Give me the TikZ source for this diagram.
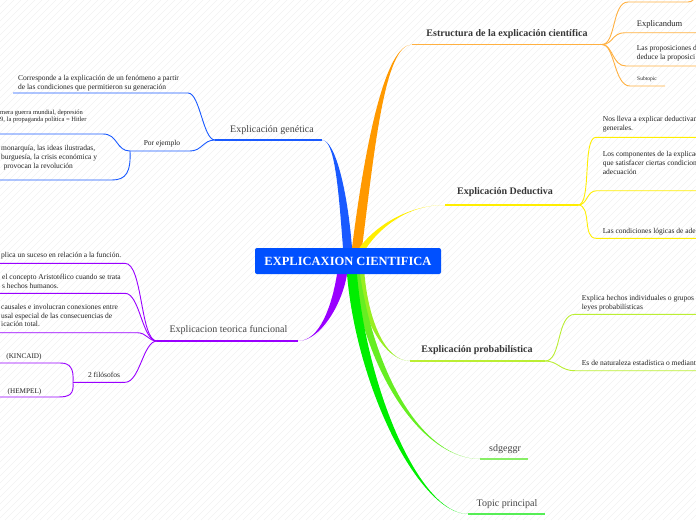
\documentclass[tikz,border=0pt]{standalone}
\usepackage{fontspec}
\setmainfont{Liberation Serif}
\usetikzlibrary{calc,positioning,backgrounds}

\definecolor{rootblue}{HTML}{0050FF}
\definecolor{genblue}{HTML}{1A5AFF}
\definecolor{estorange}{HTML}{FF9900}
\definecolor{estline}{HTML}{FFB040}
\definecolor{dedyellow}{HTML}{FFEE00}
\definecolor{probgreen}{HTML}{99EE22}
\definecolor{probline}{HTML}{BBEE33}
\definecolor{sdggreen}{HTML}{66EE22}
\definecolor{sdgline}{HTML}{88EE66}
\definecolor{topgreen}{HTML}{00EE00}
\definecolor{topline}{HTML}{55EE55}
\definecolor{funcpurple}{HTML}{9900FF}
\definecolor{labelgray}{HTML}{444444}
\definecolor{leafgray}{HTML}{222222}
\definecolor{stripegray}{HTML}{F2F2F2}

% tapered main branch: colour, start, control 1, control 2, end, half width
\newcommand{\taperbranch}[6]{%
  \fill[#1] ($(#2)+(-#6,0)$) .. controls ($(#3)+(-#6,0)$) and (#4) .. (#5)
    .. controls (#4) and ($(#3)+(#6,0)$) .. ($(#2)+(#6,0)$) -- cycle;}

\tikzset{
  rootbox/.style={fill=rootblue, text=white, font=\bfseries\fontsize{12.5}{14}\selectfont,
    minimum width=186pt, minimum height=26pt, rounded corners=2pt, inner sep=0pt},
  topiclabel/.style={font=\fontsize{10}{12}\selectfont, text=labelgray, inner sep=0pt, anchor=base},
  boldlabel/.style={topiclabel, font=\bfseries\fontsize{10}{12}\selectfont, text=labelgray!80!black},
  leaftext/.style={font=\fontsize{7.5}{9}\selectfont, text=leafgray, inner sep=0pt, align=left, anchor=base west},
  smalltext/.style={leaftext, font=\fontsize{6.5}{7.7}\selectfont},
  tinytext/.style={leaftext, font=\fontsize{5.5}{7}\selectfont},
  topicline/.style={line width=1.3pt},
  leafline/.style={line width=0.9pt},
  stripe/.style={stripegray, line width=0.5pt},
}

\begin{document}
\begin{tikzpicture}[x=1pt,y=-1pt]
\useasboundingbox (0,0) rectangle (696,520);
\clip (0,0) rectangle (696,520);

% --- Central topic ---
\node[rootbox] (root) at (348,261) {EXPLICAXION CIENTIFICA};

% --- Where the thick branches leave the central topic ---
\coordinate (gen-root)  at ($(root.north)+(-0.5,0)$);
\coordinate (est-root)  at ($(root.north)+(9,0)$);
\coordinate (ded-root)  at ($(root.north)+(15,0)$);
\coordinate (func-root) at ($(root.south)+(-6,0)$);
\coordinate (top-root)  at ($(root.south)+(4,0)$);
\coordinate (sdg-root)  at ($(root.south)+(8,0)$);
\coordinate (prob-root) at ($(root.south)+(13,0)$);

% --- Topic lines: in = end of thick branch, out = fork of the subtopics ---
\coordinate (gen-in)   at (322,140);   \coordinate (gen-out)  at (215,140);
\coordinate (est-in)   at (412,44.5);  \coordinate (est-out)  at (602,44.5);
\coordinate (ded-in)   at (445,205);   \coordinate (ded-out)  at (578,205);
\coordinate (prob-in)  at (410,361);   \coordinate (prob-out) at (545,361);
\coordinate (sdg-in)   at (480,459);   \coordinate (sdg-out)  at (528,459);
\coordinate (top-in)   at (468,514);   \coordinate (top-out)  at (545,514);
\coordinate (func-in)  at (298,341);   \coordinate (func-out) at (157,341);

% --- Background hatching and thick branches ---
\begin{scope}[on background layer]
  \foreach \k in {0,7,...,1218} {
    \draw[stripe] (\k,0) -- ++(-520,520);
  }
  \taperbranch{genblue}{gen-root}{343,190}{335,140}{gen-in}{4.5}
  \taperbranch{estorange}{est-root}{370,145}{385,44.5}{est-in}{5}
  \taperbranch{dedyellow}{ded-root}{375,230}{405,205}{ded-in}{3.5}
  \taperbranch{probgreen}{prob-root}{365,320}{385,361}{prob-in}{3.5}
  \taperbranch{sdggreen}{sdg-root}{372,380}{425,459}{sdg-in}{4}
  \taperbranch{topgreen}{top-root}{362,390}{420,514}{top-in}{5}
  \taperbranch{funcpurple}{func-root}{337,305}{320,341}{func-in}{5}
\end{scope}

% --- Explicación genética ---
\draw[genblue, topicline] (gen-in) -- (gen-out);
\node[topiclabel] (gen) at (272,132) {Explicación genética};
\coordinate (cor-r) at (188,93);   \coordinate (cor-l) at (13,93);
\coordinate (ej-r)  at (190,151);  \coordinate (ej-l)  at (130,151);
\draw[genblue, leafline] (gen-out) .. controls (203,140) and (200,93) .. (cor-r) -- (cor-l);
\draw[genblue, leafline] (gen-out) .. controls (203,140) and (202,151) .. (ej-r) -- (ej-l);
\node[leaftext] (cor) at (18,89) {Corresponde a la explicación de un fenómeno a partir\\de las condiciones que permitieron su generación};
\node[topiclabel, font=\fontsize{7.5}{9}\selectfont, text=leafgray] (ej) at (162,145.7) {Por ejemplo};

\coordinate (mera-r) at (103,134);  \coordinate (mera-l) at (0,134);
\coordinate (mon-r)  at (112,180);  \coordinate (mon-l)  at (0,180);
\draw[genblue, leafline] (ej-l) .. controls (116,151) and (118,134) .. (mera-r) -- (mera-l);
\draw[genblue, leafline] (ej-l) .. controls (131,172) and (126,180) .. (mon-r) -- (mon-l);
\node[smalltext] (mera) at (0,121.7) {mera guerra mundial, depresión\\9, la propaganda política = Hitler};
\node[leaftext] (mon) at (1,168.3) {monarquía, las ideas ilustradas,\\burguesía, la crisis económica y\\\hspace{2.5pt}provocan la revolución};

% --- Estructura de la explicación científica ---
\draw[estline, topicline] (est-in) -- (est-out);
\node[boldlabel] (est) at (507,36.7) {Estructura de la explicación científica};
\coordinate (up-l)   at (628,2);    \coordinate (up-r)   at (688,2);
\coordinate (up-end) at (697,-6);
\coordinate (expl-l) at (625,32.7); \coordinate (expl-r) at (700,32.7);
\coordinate (prop-l) at (626,66);   \coordinate (prop-r) at (700,66);
\coordinate (subt-l) at (630,86);   \coordinate (subt-r) at (665,86);
\draw[estline, leafline] (est-out) .. controls (616,44.5) and (612,2) .. (up-l) -- (up-r)
  .. controls (693,2) and (695,-2) .. (up-end);
\draw[estline, leafline] (est-out) .. controls (613,44.5) and (612,32.7) .. (expl-l) -- (expl-r);
\draw[estline, leafline] (est-out) .. controls (613,44.5) and (612,66) .. (prop-l) -- (prop-r);
\draw[estline, leafline] (est-out) .. controls (615,44.5) and (614,86) .. (subt-l) -- (subt-r);
\node[leaftext, font=\fontsize{8.5}{9.5}\selectfont] (expl) at (636.7,26) {Explicandum};
\node[leaftext] (prop) at (636.7,59.5) {Las proposiciones d\\deduce la proposici};
\node[tinytext] (subt) at (637,80.7) {Subtopic};

% --- Explicación Deductiva ---
\draw[dedyellow, topicline] (ded-in) -- (ded-out);
\node[boldlabel] (ded) at (505,194) {Explicación Deductiva};
\coordinate (nos-l)  at (596,137.3); \coordinate (nos-r)  at (700,137.3);
\coordinate (comp-l) at (597,190.7); \coordinate (comp-r) at (700,190.7);
\coordinate (cond-l) at (596,238.3); \coordinate (cond-r) at (700,238.3);
\draw[dedyellow, leafline] (ded-out) .. controls (592,205) and (582,137.3) .. (nos-l) -- (nos-r);
\draw[dedyellow, leafline] (ded-out) .. controls (588,205) and (586,190.7) .. (comp-l) -- (comp-r);
\draw[dedyellow, leafline] (ded-out) .. controls (592,205) and (582,238.3) .. (cond-l) -- (cond-r);
\node[leaftext] (nos) at (602.7,130.7) {Nos lleva a explicar deductivam\\generales.};
\node[leaftext] (comp) at (602.7,174.7) {Los componentes de la explicac\\que satisfacer ciertas condicion\\adecuación};
\node[leaftext] (cond) at (602.7,233.3) {Las condiciones lógicas de ade};

% --- Explicación probabilística ---
\draw[probline, topicline] (prob-in) -- (prob-out);
\node[boldlabel] (prob) at (477,352.7) {Explicación probabilística};
\coordinate (hech-l) at (575,314.3); \coordinate (hech-r) at (700,314.3);
\coordinate (nat-l)  at (575,370.7); \coordinate (nat-r)  at (700,370.7);
\draw[probline, leafline] (prob-out) .. controls (562,361) and (556,314.3) .. (hech-l) -- (hech-r);
\draw[probline, leafline] (prob-out) .. controls (558,361) and (560,370.7) .. (nat-l) -- (nat-r);
\node[leaftext] (hech) at (581.7,309.5) {Explica hechos individuales o grupos d\\leyes probabilísticas};
\node[leaftext] (nat) at (581.7,365) {Es de naturaleza estadística o mediant};

% --- sdgeggr and Topic principal ---
\draw[sdgline, topicline] (sdg-in) -- (sdg-out);
\node[topiclabel] (sdg) at (505,451.7) {sdgeggr};
\draw[topline, topicline] (top-in) -- (top-out);
\node[topiclabel] (topp) at (507,506) {Topic principal};

% --- Explicacion teorica funcional ---
\draw[funcpurple, topicline] (func-in) -- (func-out);
\node[topiclabel] (func) at (228.5,332.7) {Explicacion teorica funcional};
\coordinate (plica-r) at (125,263.3); \coordinate (plica-l) at (0,263.3);
\coordinate (conc-r)  at (125,293.3); \coordinate (conc-l)  at (0,293.3);
\coordinate (caus-r)  at (137,332.7); \coordinate (caus-l)  at (0,332.7);
\coordinate (dos-r)   at (125,382.3); \coordinate (dos-l)   at (73,382.3);
\draw[funcpurple, leafline] (func-out) .. controls (140,341) and (143,263.3) .. (plica-r) -- (plica-l);
\draw[funcpurple, leafline] (func-out) .. controls (142,341) and (140,293.3) .. (conc-r) -- (conc-l);
\draw[funcpurple, leafline] (func-out) .. controls (148,341) and (147,332.7) .. (caus-r) -- (caus-l);
\draw[funcpurple, leafline] (func-out) .. controls (143,341) and (140,382.3) .. (dos-r) -- (dos-l);
\node[leaftext] (plica) at (1,257.3) {plica un suceso en relación a la función.};
\node[leaftext] (conc) at (2,288.3) {el concepto Aristotélico cuando se trata\\s hechos humanos.};
\node[leaftext, font=\fontsize{7.5}{8.4}\selectfont] (caus) at (1,326.7) {causales e involucran conexiones entre\\usal especial de las consecuencias de\\icación total.};
\node[topiclabel, font=\fontsize{7.5}{9}\selectfont, text=leafgray] (dos) at (104,377.7) {2 filósofos};

\coordinate (kin-r) at (60,363);   \coordinate (kin-l) at (0,363);
\coordinate (hem-r) at (58,397);   \coordinate (hem-l) at (0,397);
\draw[funcpurple, leafline] (dos-l) .. controls (74,368) and (70,363) .. (kin-r) -- (kin-l);
\draw[funcpurple, leafline] (dos-l) .. controls (74,394) and (70,397) .. (hem-r) -- (hem-l);
\node[topiclabel, font=\fontsize{7.2}{9}\selectfont, text=leafgray] (kin) at (24,358) {(KINCAID)};
\node[topiclabel, font=\fontsize{7.2}{9}\selectfont, text=leafgray] (hem) at (24.5,393) {(HEMPEL)};

\end{tikzpicture}
\end{document}
